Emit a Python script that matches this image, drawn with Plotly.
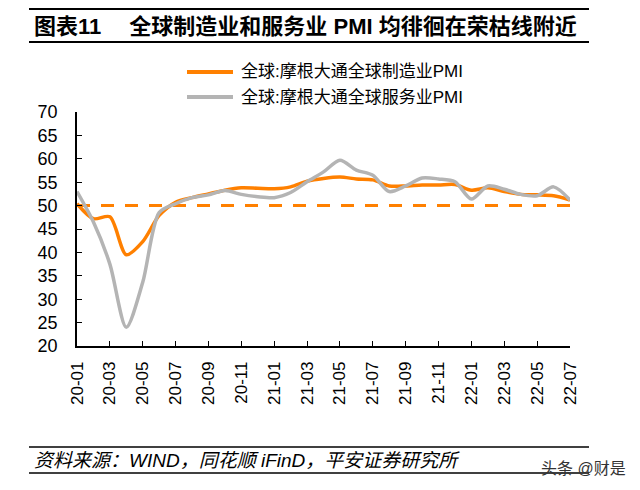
import plotly.graph_objects as go

months = ["20-01","20-02","20-03","20-04","20-05","20-06","20-07","20-08","20-09","20-10","20-11","20-12",
          "21-01","21-02","21-03","21-04","21-05","21-06","21-07","21-08","21-09","21-10","21-11","21-12",
          "22-01","22-02","22-03","22-04","22-05","22-06","22-07"]
manufacturing = [50.4, 47.2, 47.6, 39.5, 42.3, 47.9, 50.7, 51.7, 52.5, 53.3, 53.8, 53.7,
                 53.6, 54.0, 55.2, 55.8, 56.1, 55.7, 55.5, 54.2, 54.2, 54.4, 54.4, 54.5,
                 53.3, 53.8, 53.0, 52.4, 52.3, 52.1, 51.2]
services = [53.0, 46.5, 37.5, 24.0, 33.6, 48.5, 50.4, 51.7, 52.3, 53.2, 52.4, 51.9,
            51.7, 52.8, 55.1, 57.2, 59.7, 57.6, 56.5, 53.0, 54.2, 55.9, 55.7, 55.1,
            51.4, 54.2, 53.5, 52.4, 52.1, 54.0, 51.2]
threshold = [50.0] * len(months)
tick_labels = months[::2]
name_mfg = "全球:摩根大通全球制造业PMI"
name_svc = "全球:摩根大通全球服务业PMI"

FONT = "Liberation Sans, Arial, Noto Sans CJK SC, sans-serif"
ORANGE = "#FF8000"
GRAY = "#B4B4B4"

L, R, T, B = 77, 570, 112, 346
PW, PH = R - L, B - T


def px(x):
    return (x - L) / PW


def py(y):
    return (B - y) / PH


fig = go.Figure()
fig.add_trace(go.Scatter(x=months, y=threshold, mode="lines", showlegend=False,
                         line=dict(color=ORANGE, width=3, dash="13px,11px"), hoverinfo="skip"))
fig.add_trace(go.Scatter(x=months, y=manufacturing, mode="lines", name=name_mfg, showlegend=False,
                         line=dict(color=ORANGE, width=3.5, shape="spline", smoothing=0.8)))
fig.add_trace(go.Scatter(x=months, y=services, mode="lines", name=name_svc, showlegend=False,
                         line=dict(color=GRAY, width=3.5, shape="spline", smoothing=0.8)))

fig.update_layout(
    width=640, height=490,
    margin=dict(l=L, r=640 - R, t=T, b=490 - B),
    paper_bgcolor="white", plot_bgcolor="white",
    font=dict(family=FONT, size=17, color="black"),
    showlegend=False,
    xaxis=dict(type="category", range=[0, 30], tickmode="array", tickvals=tick_labels,
               ticktext=tick_labels, tickangle=-90, ticks="inside", ticklen=5,
               tickcolor="black", showline=True, linecolor="black", linewidth=1.5,
               showgrid=False, zeroline=False, tickfont=dict(size=17),
               ticklabelstandoff=7),
    yaxis=dict(range=[20, 70], dtick=5, ticks="inside", ticklen=5, tickcolor="black",
               showline=True, linecolor="black", linewidth=1.5, showgrid=False,
               zeroline=False, tickfont=dict(size=18), ticklabelstandoff=14),
)

# legend (drawn manually to match the reference's long legend lines)
for name, color, yl in ((name_mfg, ORANGE, 72), (name_svc, GRAY, 97)):
    fig.add_shape(type="line", xref="paper", yref="paper", x0=px(187), x1=px(233),
                  y0=py(yl), y1=py(yl), line=dict(color=color, width=4))
    fig.add_annotation(xref="paper", yref="paper", x=px(239), y=py(yl),
                       xanchor="left", yanchor="middle", showarrow=False,
                       text=name, font=dict(size=17, color="black", family=FONT))

# title block
for yl in (9, 42):
    fig.add_shape(type="line", xref="paper", yref="paper", x0=px(29), x1=px(589),
                  y0=py(yl), y1=py(yl), line=dict(color="black", width=2))
fig.add_annotation(xref="paper", yref="paper", x=px(32), y=py(27),
                   xanchor="left", yanchor="middle", showarrow=False,
                   text="<b>图表11　 全球制造业和服务业 PMI 均徘徊在荣枯线附近</b>",
                   font=dict(size=22, color="black", family=FONT))

# footer
for yl in (447, 473):
    fig.add_shape(type="line", xref="paper", yref="paper", x0=px(29), x1=px(589),
                  y0=py(yl), y1=py(yl), line=dict(color="black", width=1.5))
fig.add_annotation(xref="paper", yref="paper", x=px(32), y=py(460),
                   xanchor="left", yanchor="middle", showarrow=False,
                   text="<i>资料来源：WIND，同花顺 iFinD，平安证券研究所</i>",
                   font=dict(size=19, color="black", family=FONT))
fig.add_annotation(xref="paper", yref="paper", x=px(628), y=py(468),
                   xanchor="right", yanchor="middle", showarrow=False,
                   text="头条 @财是", font=dict(size=16, color="#333333", family=FONT))

fig.write_html("out.html", config={"displayModeBar": False},
               post_script="document.body.style.margin='0';document.body.style.padding='0';")
